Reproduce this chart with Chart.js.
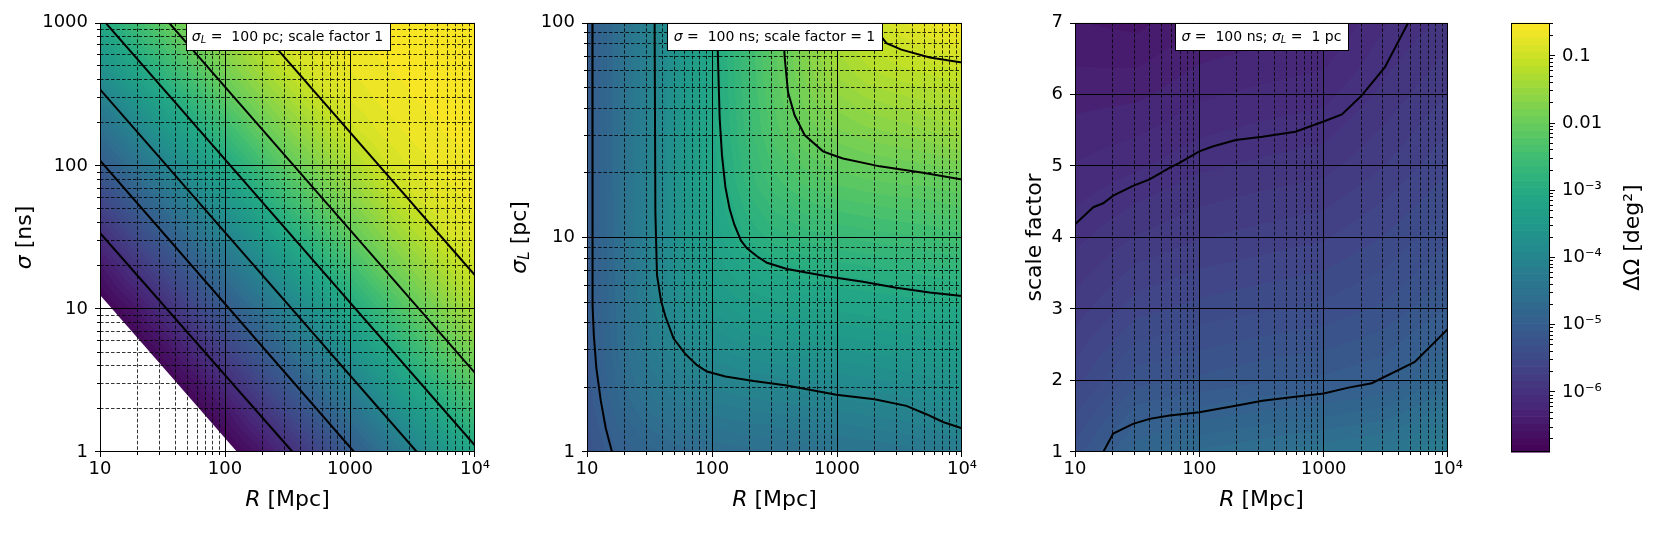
<!DOCTYPE html>
<html><head><meta charset="utf-8">
<script src="https://cdn.jsdelivr.net/npm/chart.js@4.4.1/dist/chart.umd.min.js"></script>
<style>
html,body{margin:0;padding:0;background:#fff;}
#fig{position:relative;width:1659px;height:544px;overflow:hidden;background:#fff;}
canvas{position:absolute;top:0;}
</style></head><body>
<div id="fig">
<canvas id="c1" width="500" height="544" style="left:0px"></canvas>
<canvas id="c2" width="500" height="544" style="left:500px"></canvas>
<canvas id="c3" width="470" height="544" style="left:1000px"></canvas>
<canvas id="c4" width="189" height="544" style="left:1470px"></canvas>
</div>
<script>
// ================= DATA =================
const R_TICKS = [10, 100, 1000, 10000];
const R_LABELS = ['10', '100', '1000', '10⁴'];
const SIGMA_TICKS = [1, 10, 100, 1000];
const SIGMA_LABELS = ['1', '10', '100', '1000'];
const SIGMAL_TICKS = [1, 10, 100];
const SIGMAL_LABELS = ['1', '10', '100'];
const SCALE_TICKS = [1, 2, 3, 4, 5, 6, 7];
const SCALE_LABELS = ['1', '2', '3', '4', '5', '6', '7'];
const CBAR_TICKS = [1e-6, 1e-5, 1e-4, 1e-3, 1e-2, 1e-1];
const CBAR_LABELS = ['10⁻⁶', '10⁻⁵', '10⁻⁴', '10⁻³', '0.01', '0.1'];
const CBAR_RANGE = [1.28e-7, 0.31];
const N_LEVELS = 60;

// ---- Panel 1: log10(ΔΩ) depends on log10(R·σ) (straight diagonal contours) ----
const P1_LOGR_NODES   = [1, 1.25, 1.5, 1.75, 2, 2.25, 2.5, 2.75, 3, 3.25, 3.5, 3.75, 4];
const P1_LOGSIG_NODES = [0, 0.25, 0.5, 0.75, 1, 1.25, 1.5, 1.75, 2, 2.25, 2.5, 2.75, 3];
const P1_LOGRS = [1, 1.25, 1.5, 1.75, 2, 2.25, 2.5, 2.75, 3, 3.25, 3.5, 3.75, 4,
                  4.25, 4.5, 4.75, 5, 5.25, 5.5, 5.75, 6, 6.25, 6.5, 6.75, 7];
const P1_PROFILE = [-6.89, -6.89, -6.89, -6.89, -6.89, -6.58, -6.08, -5.58, -5.08, -4.58, -4.08, -3.58, -3.09,
                    -2.60, -2.10, -1.71, -1.34, -0.98, -0.80, -0.68, -0.61, -0.57, -0.54, -0.52, -0.51];
const P1_MASK   = [[10, 12.5], [125, 1]];
const P1_LINE_6 = [[10, 34], [347, 1]];
const P1_LINE_5 = [[10, 109], [1080, 1]];
const P1_LINE_4 = [[10, 343], [3430, 1]];
const P1_LINE_3 = [[11.1, 1000], [10000, 1.11]];
const P1_LINE_2 = [[35.7, 1000], [10000, 3.57]];
const P1_LINE_1 = [[172, 1000], [10000, 17.2]];

// ---- Panel 2: log10(ΔΩ) on grid (rows: log10 σL, cols: log10 R) ----
const P2_LOGR_NODES  = [1, 1.25, 1.5, 1.75, 2, 2.25, 2.5, 2.75, 3, 3.25, 3.5, 3.75, 4];
const P2_LOGSL_NODES = [0, 0.25, 0.5, 0.75, 1, 1.25, 1.5, 1.75, 2];
const P2_FIELD = [
  [-5.26, -4.97, -4.80, -4.70, -4.64, -4.60, -4.56, -4.52, -4.48, -4.44, -4.40, -4.33, -4.22],
  [-5.15, -4.76, -4.47, -4.30, -4.20, -4.14, -4.10, -4.06, -4.02, -3.98, -3.94, -3.87, -3.76],
  [-5.11, -4.65, -4.26, -3.97, -3.80, -3.70, -3.64, -3.60, -3.56, -3.52, -3.48, -3.44, -3.36],
  [-5.09, -4.61, -4.15, -3.76, -3.47, -3.30, -3.20, -3.14, -3.10, -3.06, -3.02, -2.98, -2.92],
  [-5.08, -4.59, -4.11, -3.65, -3.26, -2.97, -2.80, -2.70, -2.64, -2.60, -2.56, -2.52, -2.45],
  [-5.08, -4.58, -4.09, -3.61, -3.15, -2.76, -2.47, -2.30, -2.20, -2.14, -2.10, -2.08, -2.02],
  [-5.08, -4.58, -4.08, -3.59, -3.11, -2.65, -2.26, -1.97, -1.80, -1.70, -1.64, -1.56, -1.45],
  [-5.08, -4.58, -4.08, -3.58, -3.09, -2.61, -2.15, -1.76, -1.47, -1.30, -1.22, -1.16, -1.10],
  [-5.08, -4.58, -4.08, -3.58, -3.08, -2.59, -2.11, -1.65, -1.26, -1.05, -0.85, -0.70, -0.58]
];
const P2_LINE_5 = [[11.04, 100], [11.04, 10], [11.12, 4.8], [11.35, 3.47], [11.89, 2.45], [12.88, 1.74], [14.13, 1.29], [15.85, 1.0]];
const P2_LINE_4 = [[34.75, 100], [35.24, 13.1], [36.31, 6.67], [39.08, 5.08], [42.36, 4.29], [49.32, 3.38], [61.24, 2.86],
                   [75.86, 2.54], [91.2, 2.37], [127.9, 2.25], [215.3, 2.14], [398.1, 2.04], [988.6, 1.85], [1995, 1.76],
                   [3589, 1.64], [5188, 1.50], [7047, 1.38], [10000, 1.29]];
const P2_LINE_3 = [[109.6, 100], [115.1, 36.2], [120.2, 24.1], [127.9, 17.18], [138.4, 13.55], [151.0, 11.46], [170.6, 9.66],
                   [190.5, 8.89], [229.1, 8.17], [275.4, 7.62], [398.1, 7.13], [871, 6.56], [1614, 6.22], [2985, 5.82],
                   [5521, 5.53], [10000, 5.33]];
const P2_LINE_2 = [[369.8, 100], [381.1, 69.8], [405.5, 47.4], [458.1, 37.07], [550.8, 29.99], [772.7, 25.18], [988.6, 23.88],
                   [1117, 23.33], [2198, 21.43], [4875, 20.0], [10000, 18.62]];
const P2_LINE_1 = [[2138, 100], [2265, 86.3], [2483, 80.4], [3273, 75.0], [5521, 68.9], [10000, 65.3]];

// ---- Panel 3: log10(ΔΩ) on grid (rows: scale factor, cols: log10 R) ----
const P3_LOGR_NODES  = [1, 1.5, 2, 2.5, 3, 3.5, 4];
const P3_SCALE_NODES = [1, 2, 3, 4, 5, 6, 7];
const P3_FIELD = [
  [-5.26, -4.80, -4.64, -4.56, -4.48, -4.40, -4.22],
  [-5.55, -5.23, -5.17, -5.10, -5.06, -4.98, -4.72],
  [-5.78, -5.55, -5.47, -5.42, -5.37, -5.27, -5.08],
  [-5.97, -5.82, -5.73, -5.68, -5.63, -5.50, -5.32],
  [-6.14, -6.06, -5.96, -5.91, -5.87, -5.72, -5.53],
  [-6.30, -6.28, -6.17, -6.12, -6.08, -5.90, -5.72],
  [-6.46, -6.50, -6.37, -6.32, -6.28, -6.05, -5.90]
];
const P3_LINE_5 = [[16.87, 1.0], [20.28, 1.257], [29.31, 1.394], [39.81, 1.463], [57.54, 1.509], [100, 1.555], [196.3, 1.647],
                   [321.4, 1.716], [592.9, 1.771], [1000, 1.817], [1585, 1.90], [2438, 1.962], [5408, 2.258], [10000, 2.72]];
const P3_LINE_6 = [[10, 4.183], [14.03, 4.422], [16.87, 4.477], [20.28, 4.583], [29.31, 4.72], [39.81, 4.81], [57.54, 4.972],
                   [69.18, 5.041], [100, 5.202], [127.9, 5.271], [196.3, 5.362], [321.4, 5.408], [592.9, 5.477], [1000, 5.62],
                   [1403, 5.72], [2028, 5.985], [3112, 6.38], [4786, 7.0]];

// ================= RENDERING =================
const FONT = '"DejaVu Sans", sans-serif';
Chart.defaults.font.family = FONT;
const LMIN = Math.log10(CBAR_RANGE[0]), LMAX = Math.log10(CBAR_RANGE[1]);

const VIRIDIS = ['#440154','#482475','#414487','#355f8d','#2a788e','#21918c','#22a884','#44bf70','#7ad151','#bddf26','#fde725']
  .map(h => [parseInt(h.substr(1,2),16), parseInt(h.substr(3,2),16), parseInt(h.substr(5,2),16)]);
function viridis(t) {
  t = Math.max(0, Math.min(1, t)) * (VIRIDIS.length - 1);
  const k = Math.min(Math.floor(t), VIRIDIS.length - 2), f = t - k;
  const a = VIRIDIS[k], b = VIRIDIS[k + 1];
  return [0,1,2].map(c => Math.round(a[c] + (b[c] - a[c]) * f));
}
const BAND_COLORS = [];
for (let b = 0; b < N_LEVELS; b++) BAND_COLORS.push(viridis((b + 0.5) / N_LEVELS));

function fracIdx(nodes, v) {
  const n = nodes.length;
  if (v <= nodes[0]) return 0;
  if (v >= nodes[n - 1]) return n - 1;
  for (let k = 0; k < n - 1; k++) if (v <= nodes[k + 1]) return k + (v - nodes[k]) / (nodes[k + 1] - nodes[k]);
  return n - 1;
}

function drawHeat(chart, cfg) {
  const {ctx, chartArea: ca, scales} = chart;
  const L = Math.round(ca.left), T = Math.round(ca.top);
  const W = Math.round(ca.right) - L, H = Math.round(ca.bottom) - T;
  const off = document.createElement('canvas'); off.width = W; off.height = H;
  const oc = off.getContext('2d'); const img = oc.createImageData(W, H); const d = img.data;
  const fx = new Float64Array(W), fy = new Float64Array(H);
  for (let i = 0; i < W; i++) fx[i] = fracIdx(cfg.xNodes, Math.log10(scales.x.getValueForPixel(L + i + 0.5)));
  for (let j = 0; j < H; j++) {
    let v = scales.y.getValueForPixel(T + j + 0.5);
    if (cfg.yLog) v = Math.log10(v);
    fy[j] = fracIdx(cfg.yNodes, v);
  }
  const G = cfg.field, nx = cfg.xNodes.length, ny = cfg.yNodes.length;
  for (let j = 0; j < H; j++) {
    const j0 = Math.min(Math.floor(fy[j]), ny - 2), ty = fy[j] - j0;
    const r0 = G[j0], r1 = G[j0 + 1];
    for (let i = 0; i < W; i++) {
      const i0 = Math.min(Math.floor(fx[i]), nx - 2), tx = fx[i] - i0;
      const v = (r0[i0] * (1 - tx) + r0[i0 + 1] * tx) * (1 - ty) + (r1[i0] * (1 - tx) + r1[i0 + 1] * tx) * ty;
      let b = Math.floor((v - LMIN) / (LMAX - LMIN) * N_LEVELS);
      b = Math.max(0, Math.min(N_LEVELS - 1, b));
      const c = BAND_COLORS[b], o = (j * W + i) * 4;
      d[o] = c[0]; d[o + 1] = c[1]; d[o + 2] = c[2]; d[o + 3] = 255;
    }
  }
  oc.putImageData(img, 0, 0);
  ctx.drawImage(off, L, T, W, H);
}

function minorsLog(ticks) {
  const out = [];
  for (let k = 0; k < ticks.length - 1; k++) for (let m = 2; m <= 9; m++) out.push(ticks[k] * m);
  return out;
}
function snap(p, lo, hi) { return Math.max(lo + 0.5, Math.min(hi - 0.5, Math.floor(p) + 0.5)); }

function drawGrid(chart, cfg) {
  const {ctx, chartArea: ca, scales: {x, y}} = chart;
  ctx.save();
  ctx.beginPath(); ctx.rect(ca.left, ca.top, ca.right - ca.left, ca.bottom - ca.top); ctx.clip();
  ctx.strokeStyle = '#000';
  ctx.lineWidth = 0.8; ctx.setLineDash([3.5, 2]);
  ctx.beginPath();
  for (const v of minorsLog(R_TICKS)) { const p = snap(x.getPixelForValue(v), ca.left, ca.right); ctx.moveTo(p, ca.top); ctx.lineTo(p, ca.bottom); }
  if (cfg.yLog) for (const v of minorsLog(cfg.yTicks)) { const p = snap(y.getPixelForValue(v), ca.top, ca.bottom); ctx.moveTo(ca.left, p); ctx.lineTo(ca.right, p); }
  ctx.stroke();
  ctx.setLineDash([]); ctx.lineWidth = 1;
  ctx.beginPath();
  for (const v of R_TICKS) { const p = snap(x.getPixelForValue(v), ca.left, ca.right); ctx.moveTo(p, ca.top); ctx.lineTo(p, ca.bottom); }
  for (const v of cfg.yTicks) { const p = snap(y.getPixelForValue(v), ca.top, ca.bottom); ctx.moveTo(ca.left, p); ctx.lineTo(ca.right, p); }
  ctx.stroke();
  ctx.restore();
}

function fontStr(p, size) { const s = p.sub ? Math.round(size * 0.7) : size; return (p.it ? 'italic ' : '') + s + 'px ' + FONT; }
function richWidth(ctx, parts, size) { let w = 0; for (const p of parts) { ctx.font = fontStr(p, size); w += ctx.measureText(p.t).width; } return w; }
function drawRich(ctx, parts, x, y, size) {
  const w = richWidth(ctx, parts, size); let cx = x - w / 2;
  ctx.textAlign = 'left'; ctx.textBaseline = 'middle'; ctx.fillStyle = '#000';
  for (const p of parts) {
    ctx.font = fontStr(p, size);
    ctx.fillText(p.t, cx, y + (p.sub ? size * 0.25 : 0));
    cx += ctx.measureText(p.t).width;
  }
  return w;
}

function drawBox(chart, cfg) {
  const {ctx, chartArea: ca} = chart; const size = 14;
  const w = richWidth(ctx, cfg.box, size); const bw = Math.round(w + 13), bh = 27;
  const cx = (ca.left + ca.right) / 2;
  const x0 = Math.round(cx - bw / 2) + 0.5, y0 = Math.round(ca.top) + 0.5;
  ctx.save();
  ctx.fillStyle = '#fff'; ctx.fillRect(x0, y0, bw, bh);
  ctx.strokeStyle = '#000'; ctx.lineWidth = 1; ctx.setLineDash([]); ctx.strokeRect(x0, y0, bw, bh);
  drawRich(ctx, cfg.box, cx, y0 + bh / 2, size);
  ctx.restore();
}

function drawAxes(chart, cfg) {
  const {ctx, chartArea: ca, scales: {x, y}} = chart;
  ctx.save();
  ctx.strokeStyle = '#000'; ctx.lineWidth = 1; ctx.setLineDash([]);
  const L = Math.round(ca.left), T = Math.round(ca.top), R = Math.round(ca.right), B = Math.round(ca.bottom);
  ctx.strokeRect(L + 0.5, T + 0.5, R - L - 1, B - T - 1);
  ctx.beginPath();
  for (const v of R_TICKS) { const p = snap(x.getPixelForValue(v), L, R); ctx.moveTo(p, B); ctx.lineTo(p, B + 5); }
  for (const v of minorsLog(R_TICKS)) { const p = snap(x.getPixelForValue(v), L, R); ctx.moveTo(p, B); ctx.lineTo(p, B + 3); }
  for (const v of cfg.yTicks) { const p = snap(y.getPixelForValue(v), T, B); ctx.moveTo(L - 5, p); ctx.lineTo(L, p); }
  if (cfg.yLog) for (const v of minorsLog(cfg.yTicks)) { const p = snap(y.getPixelForValue(v), T, B); ctx.moveTo(L - 3, p); ctx.lineTo(L, p); }
  ctx.stroke();
  // axis titles
  drawRich(ctx, [{t: 'R', it: true}, {t: ' [Mpc]'}], (ca.left + ca.right) / 2, 500, 22);
  ctx.translate(cfg.yTitleX, (ca.top + ca.bottom) / 2);
  ctx.rotate(-Math.PI / 2);
  drawRich(ctx, cfg.yTitle, 0, 0, 22);
  ctx.restore();
}

function makePanelPlugin(cfg) {
  return {
    id: 'panel' + cfg.id,
    beforeDatasetsDraw(chart) { drawHeat(chart, cfg); if (!cfg.mask) drawGrid(chart, cfg); },
    afterDatasetDraw(chart, args) { if (cfg.mask && chart.data.datasets[args.index].isMask) drawGrid(chart, cfg); },
    afterDatasetsDraw(chart) { drawBox(chart, cfg); },
    afterDraw(chart) { drawAxes(chart, cfg); }
  };
}

const toXY = arr => arr.map(([x, y]) => ({x, y}));

function panelChart(canvasId, cfg) {
  const datasets = [];
  if (cfg.mask) datasets.push({data: toXY(cfg.mask), showLine: true, fill: 'start', backgroundColor: '#ffffff',
    borderWidth: 0, borderColor: 'rgba(0,0,0,0)', pointRadius: 0, order: 1, isMask: true, clip: 0});
  cfg.contours.forEach(c => datasets.push({data: toXY(c), showLine: true, fill: false, borderColor: '#000',
    borderWidth: 2, pointRadius: 0, order: 0, clip: 0, tension: 0}));
  const tickFont = {family: FONT, size: 18};
  return new Chart(document.getElementById(canvasId), {
    type: 'scatter',
    data: {datasets},
    options: {
      responsive: false, animation: false, events: [],
      layout: {padding: {left: 0, top: 16, right: cfg.padRight, bottom: 0}},
      plugins: {legend: {display: false}, tooltip: {enabled: false}},
      scales: {
        x: {
          type: 'logarithmic', min: 10, max: 10000,
          afterFit: s => { s.height = 92; },
          afterBuildTicks: s => { s.ticks = R_TICKS.map(v => ({value: v})); },
          ticks: {autoSkip: false, maxRotation: 0, minRotation: 0, padding: 7, color: '#000', font: tickFont,
                  callback: (v, i) => R_LABELS[i]},
          grid: {display: false, drawTicks: false}, border: {display: false}
        },
        y: {
          type: cfg.yLog ? 'logarithmic' : 'linear', min: cfg.yTicks[0], max: cfg.yTicks[cfg.yTicks.length - 1],
          afterFit: s => { s.width = cfg.left; },
          afterBuildTicks: s => { s.ticks = cfg.yTicks.map(v => ({value: v})); },
          ticks: {autoSkip: false, padding: 12, color: '#000', font: tickFont, callback: (v, i) => cfg.yLabels[i]},
          grid: {display: false, drawTicks: false}, border: {display: false}
        }
      }
    },
    plugins: [makePanelPlugin(cfg)]
  });
}

// Panel 1 grid is built from the read profile along log10(R·σ)
const P1_FIELD = P1_LOGSIG_NODES.map(ys => P1_LOGR_NODES.map(xs => {
  const k = P1_LOGRS.findIndex(p => Math.abs(p - (xs + ys)) < 1e-6);
  return P1_PROFILE[k];
}));

panelChart('c1', {
  id: 1, left: 100, padRight: 25, yLog: true, yTicks: SIGMA_TICKS, yLabels: SIGMA_LABELS,
  xNodes: P1_LOGR_NODES, yNodes: P1_LOGSIG_NODES, field: P1_FIELD, mask: P1_MASK,
  contours: [P1_LINE_6, P1_LINE_5, P1_LINE_4, P1_LINE_3, P1_LINE_2, P1_LINE_1],
  yTitleX: 25, yTitle: [{t: 'σ', it: true}, {t: ' [ns]'}],
  box: [{t: 'σ', it: true}, {t: 'L', it: true, sub: true}, {t: ' =  100 pc; scale factor 1'}]
});
panelChart('c2', {
  id: 2, left: 87, padRight: 38, yLog: true, yTicks: SIGMAL_TICKS, yLabels: SIGMAL_LABELS,
  xNodes: P2_LOGR_NODES, yNodes: P2_LOGSL_NODES, field: P2_FIELD, mask: null,
  contours: [P2_LINE_5, P2_LINE_4, P2_LINE_3, P2_LINE_2, P2_LINE_1],
  yTitleX: 20, yTitle: [{t: 'σ', it: true}, {t: 'L', it: true, sub: true}, {t: ' [pc]'}],
  box: [{t: 'σ', it: true}, {t: ' =  100 ns; scale factor = 1'}]
});
panelChart('c3', {
  id: 3, left: 75, padRight: 20, yLog: false, yTicks: SCALE_TICKS, yLabels: SCALE_LABELS,
  xNodes: P3_LOGR_NODES, yNodes: P3_SCALE_NODES, field: P3_FIELD, mask: null,
  contours: [P3_LINE_5, P3_LINE_6],
  yTitleX: 35, yTitle: [{t: 'scale factor'}],
  box: [{t: 'σ', it: true}, {t: ' =  100 ns; '}, {t: 'σ', it: true}, {t: 'L', it: true, sub: true}, {t: ' =  1 pc'}]
});

// ---- Colorbar ----
const cbarPlugin = {
  id: 'cbar',
  afterDraw(chart) {
    const {ctx, chartArea: ca, scales: {y}} = chart;
    const L = Math.round(ca.left), R = Math.round(ca.right), T = Math.round(ca.top), B = Math.round(ca.bottom);
    ctx.save();
    const step = (LMAX - LMIN) / N_LEVELS;
    for (let b = 0; b < N_LEVELS; b++) {
      const y1 = y.getPixelForValue(Math.pow(10, LMIN + b * step));
      const y2 = y.getPixelForValue(Math.pow(10, LMIN + (b + 1) * step));
      const c = BAND_COLORS[b];
      ctx.fillStyle = 'rgb(' + c.join(',') + ')';
      ctx.fillRect(L, y2, R - L, y1 - y2 + 0.6);
    }
    ctx.strokeStyle = '#000'; ctx.lineWidth = 1;
    ctx.strokeRect(L + 0.5, T + 0.5, R - L - 1, B - T - 1);
    ctx.beginPath();
    for (const v of CBAR_TICKS) { const p = snap(y.getPixelForValue(v), T, B); ctx.moveTo(R, p); ctx.lineTo(R + 5, p); }
    for (let e = -7; e <= -1; e++) for (let m = 2; m <= 9; m++) {
      const v = m * Math.pow(10, e);
      if (v < CBAR_RANGE[0] || v > CBAR_RANGE[1]) continue;
      const p = snap(y.getPixelForValue(v), T, B); ctx.moveTo(R, p); ctx.lineTo(R + 3, p);
    }
    ctx.stroke();
    ctx.translate(163, (T + B) / 2);
    ctx.rotate(-Math.PI / 2);
    drawRich(ctx, [{t: 'ΔΩ [deg²]'}], 0, 0, 22);
    ctx.restore();
  }
};
new Chart(document.getElementById('c4'), {
  type: 'scatter',
  data: {datasets: []},
  options: {
    responsive: false, animation: false, events: [],
    layout: {padding: {left: 41, top: 20, right: 0, bottom: 92}},
    plugins: {legend: {display: false}, tooltip: {enabled: false}},
    scales: {
      x: {display: false, type: 'linear', min: 0, max: 1},
      y: {
        type: 'logarithmic', position: 'right', min: CBAR_RANGE[0], max: CBAR_RANGE[1],
        afterFit: s => { s.width = 109; },
        afterBuildTicks: s => { s.ticks = CBAR_TICKS.map(v => ({value: v})); },
        ticks: {autoSkip: false, padding: 12, color: '#000', font: {family: FONT, size: 18}, callback: (v, i) => CBAR_LABELS[i]},
        grid: {display: false, drawTicks: false}, border: {display: false}
      }
    }
  },
  plugins: [cbarPlugin]
});
</script>
</body></html>
